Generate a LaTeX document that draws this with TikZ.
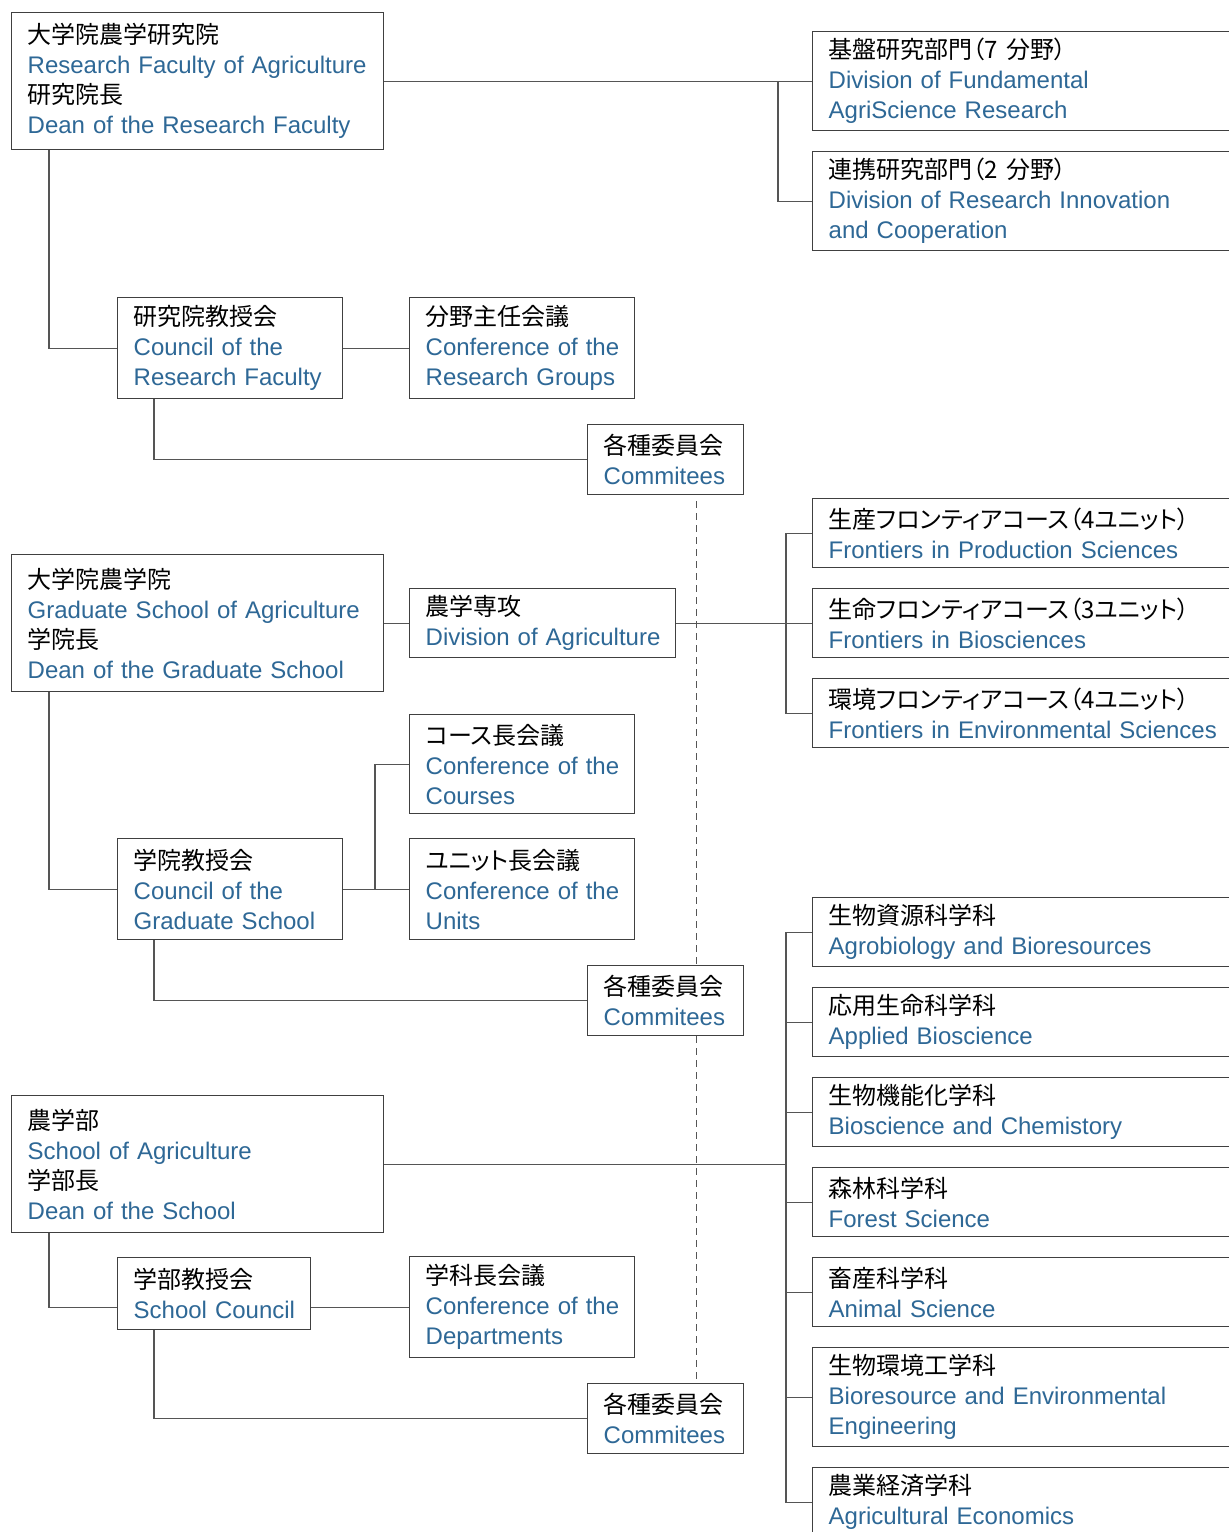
\documentclass[tikz,border=0pt]{standalone}
\usepackage{fontspec}
\setmainfont{Liberation Sans}
\newfontfamily\jpfont[RawFeature=+palt]{Noto Sans CJK JP}
\definecolor{enblue}{RGB}{46,104,150}
\definecolor{boxgray}{RGB}{64,64,64}
\definecolor{linegray}{RGB}{85,85,85}
\usepackage{tikz}
\usetikzlibrary{positioning, calc}

\newcommand{\jp}[1]{\mbox{\jpfont #1}}
\newcommand{\en}[1]{\mbox{\textcolor{enblue}{#1}}}

\begin{document}
\begin{tikzpicture}[x=0.5pt, y=-0.5pt,
  orgbox/.style={draw=boxgray, fill=white, line width=0.7pt, anchor=north west, align=left,
    inner xsep=8pt, inner ysep=0pt, font=\fontsize{12}{15}\selectfont},
  widebox/.style={orgbox, text width=170pt, minimum height=68.5pt},
  sidebox/.style={orgbox, text width=210pt},
  midbox/.style={orgbox, text width=96.5pt},
  commbox/.style={orgbox, text width=62pt, minimum height=35pt},
  link/.style={draw=linegray, line width=0.6pt},
  commline/.style={draw=linegray, line width=0.6pt, dash pattern=on 3.5pt off 2.5pt}]
  \useasboundingbox (0,0) rectangle (1228,1532);

  % Research faculty
  \node[widebox] (resfac) at (11,12) {
    \jp{大学院農学研究院}\\ \en{Research Faculty of Agriculture}\\
    \jp{研究院長}\\ \en{Dean of the Research Faculty}};
  \node[sidebox, minimum height=49.5pt] (fund) at (812,31) {
    \jp{基盤研究部門（7 分野）}\\ \en{Division of Fundamental}\\ \en{AgriScience Research}};
  \node[sidebox, minimum height=49.5pt] (innov) at (812,151) {
    \jp{連携研究部門（2 分野）}\\ \en{Division of Research Innovation}\\ \en{and Cooperation}};
  \node[midbox, minimum height=50.5pt] (rcouncil) at (117,297) {
    \jp{研究院教授会}\\ \en{Council of the}\\ \en{Research Faculty}};
  \node[midbox, minimum height=50.5pt] (rgroups) at (409,297) {
    \jp{分野主任会議}\\ \en{Conference of the}\\ \en{Research Groups}};
  \node[commbox] (comm1) at (587,424) {\jp{各種委員会}\\ \en{Commitees}};

  % Graduate school
  \node[widebox] (gradsch) at (11,554) {
    \jp{大学院農学院}\\ \en{Graduate School of Agriculture}\\
    \jp{学院長}\\ \en{Dean of the Graduate School}};
  \node[orgbox, text width=117pt, minimum height=34.5pt] (divagr) at (409,588) {
    \jp{農学専攻}\\ \en{Division of Agriculture}};
  \node[sidebox, minimum height=34.5pt] (front1) at (812,498) {
    \jp{生産フロンティアコース（4ユニット）}\\ \en{Frontiers in Production Sciences}};
  \node[sidebox, minimum height=34.5pt] (front2) at (812,588) {
    \jp{生命フロンティアコース（3ユニット）}\\ \en{Frontiers in Biosciences}};
  \node[sidebox, minimum height=34.5pt] (front3) at (812,678) {
    \jp{環境フロンティアコース（4ユニット）}\\ \en{Frontiers in Environmental Sciences}};
  \node[midbox, minimum height=49.5pt] (courses) at (409,714) {
    \jp{コース長会議}\\ \en{Conference of the}\\ \en{Courses}};
  \node[midbox, minimum height=50.5pt] (gcouncil) at (117,838) {
    \jp{学院教授会}\\ \en{Council of the}\\ \en{Graduate School}};
  \node[midbox, minimum height=50.5pt] (units) at (409,838) {
    \jp{ユニット長会議}\\ \en{Conference of the}\\ \en{Units}};
  \node[commbox] (comm2) at (587,965) {\jp{各種委員会}\\ \en{Commitees}};

  % School
  \node[widebox] (school) at (11,1095) {
    \jp{農学部}\\ \en{School of Agriculture}\\
    \jp{学部長}\\ \en{Dean of the School}};
  \node[sidebox, minimum height=34.5pt] (dept1) at (812,897) {
    \jp{生物資源科学科}\\ \en{Agrobiology and Bioresources}};
  \node[sidebox, minimum height=34.5pt] (dept2) at (812,987) {
    \jp{応用生命科学科}\\ \en{Applied Bioscience}};
  \node[sidebox, minimum height=34.5pt] (dept3) at (812,1077) {
    \jp{生物機能化学科}\\ \en{Bioscience and Chemistory}};
  \node[sidebox, minimum height=34.5pt] (dept4) at (812,1167) {
    \jp{森林科学科}\\ \en{Forest Science}};
  \node[sidebox, minimum height=34.5pt] (dept5) at (812,1257) {
    \jp{畜産科学科}\\ \en{Animal Science}};
  \node[sidebox, minimum height=49.5pt] (dept6) at (812,1347) {
    \jp{生物環境工学科}\\ \en{Bioresource and Environmental}\\ \en{Engineering}};
  \node[sidebox, minimum height=34.5pt] (dept7) at (812,1467) {
    \jp{農業経済学科}\\ \en{Agricultural Economics}};
  \node[orgbox, text width=80.5pt, minimum height=36pt] (scouncil) at (117,1257) {
    \jp{学部教授会}\\ \en{School Council}};
  \node[midbox, minimum height=50.5pt] (dconf) at (409,1256) {
    \jp{学科長会議}\\ \en{Conference of the}\\ \en{Departments}};
  \node[commbox] (comm3) at (587,1383) {\jp{各種委員会}\\ \en{Commitees}};

  % Connectors, research faculty
  \coordinate (rbranch) at ([xshift=-17pt]fund.west);
  \draw[link] (resfac.east) -- (fund.west);
  \draw[link] (rbranch) |- (innov.west);
  \draw[link] ([xshift=19pt]resfac.south west) |- (rcouncil.west);
  \draw[link] (rcouncil.east) -- (rgroups.west);
  \draw[link] ([xshift=18.5pt]rcouncil.south west) |- (comm1.west);

  % Connectors, graduate school
  \coordinate (fbranch) at ([xshift=-13pt]front1.west);
  \draw[link] (gradsch.east) -- (divagr.west);
  \draw[link] (divagr.east) -- (front2.west);
  \draw[link] (front1.west) -- (fbranch) |- (front3.west);
  \draw[link] ([xshift=19pt]gradsch.south west) |- (gcouncil.west);
  \draw[link] (gcouncil.east) -- (units.west);
  \draw[link] ([xshift=-17pt]units.west) |- (courses.west);
  \draw[link] ([xshift=18.5pt]gcouncil.south west) |- (comm2.west);

  % Connectors, school
  \coordinate (dbranch) at ([xshift=-13pt]dept1.west);
  \draw[link] (school.east) -- (school.east -| dbranch);
  \draw[link] (dbranch) |- (dept7.west);
  \foreach \d in {1,...,6}
    \draw[link] (dbranch |- dept\d.west) -- (dept\d.west);
  \draw[link] ([xshift=19pt]school.south west) |- (scouncil.west |- dconf.west);
  \draw[link] (scouncil.east |- dconf.west) -- (dconf.west);
  \draw[link] ([xshift=18.5pt]scouncil.south west) |- (comm3.west);

  % Committees line
  \draw[commline] ([xshift=-24pt,yshift=-3pt]comm1.south east) -- ([xshift=-24pt]comm2.north east);
  \draw[commline] ([xshift=-24pt]comm2.south east) -- ([xshift=-24pt]comm3.north east);
\end{tikzpicture}
\end{document}
